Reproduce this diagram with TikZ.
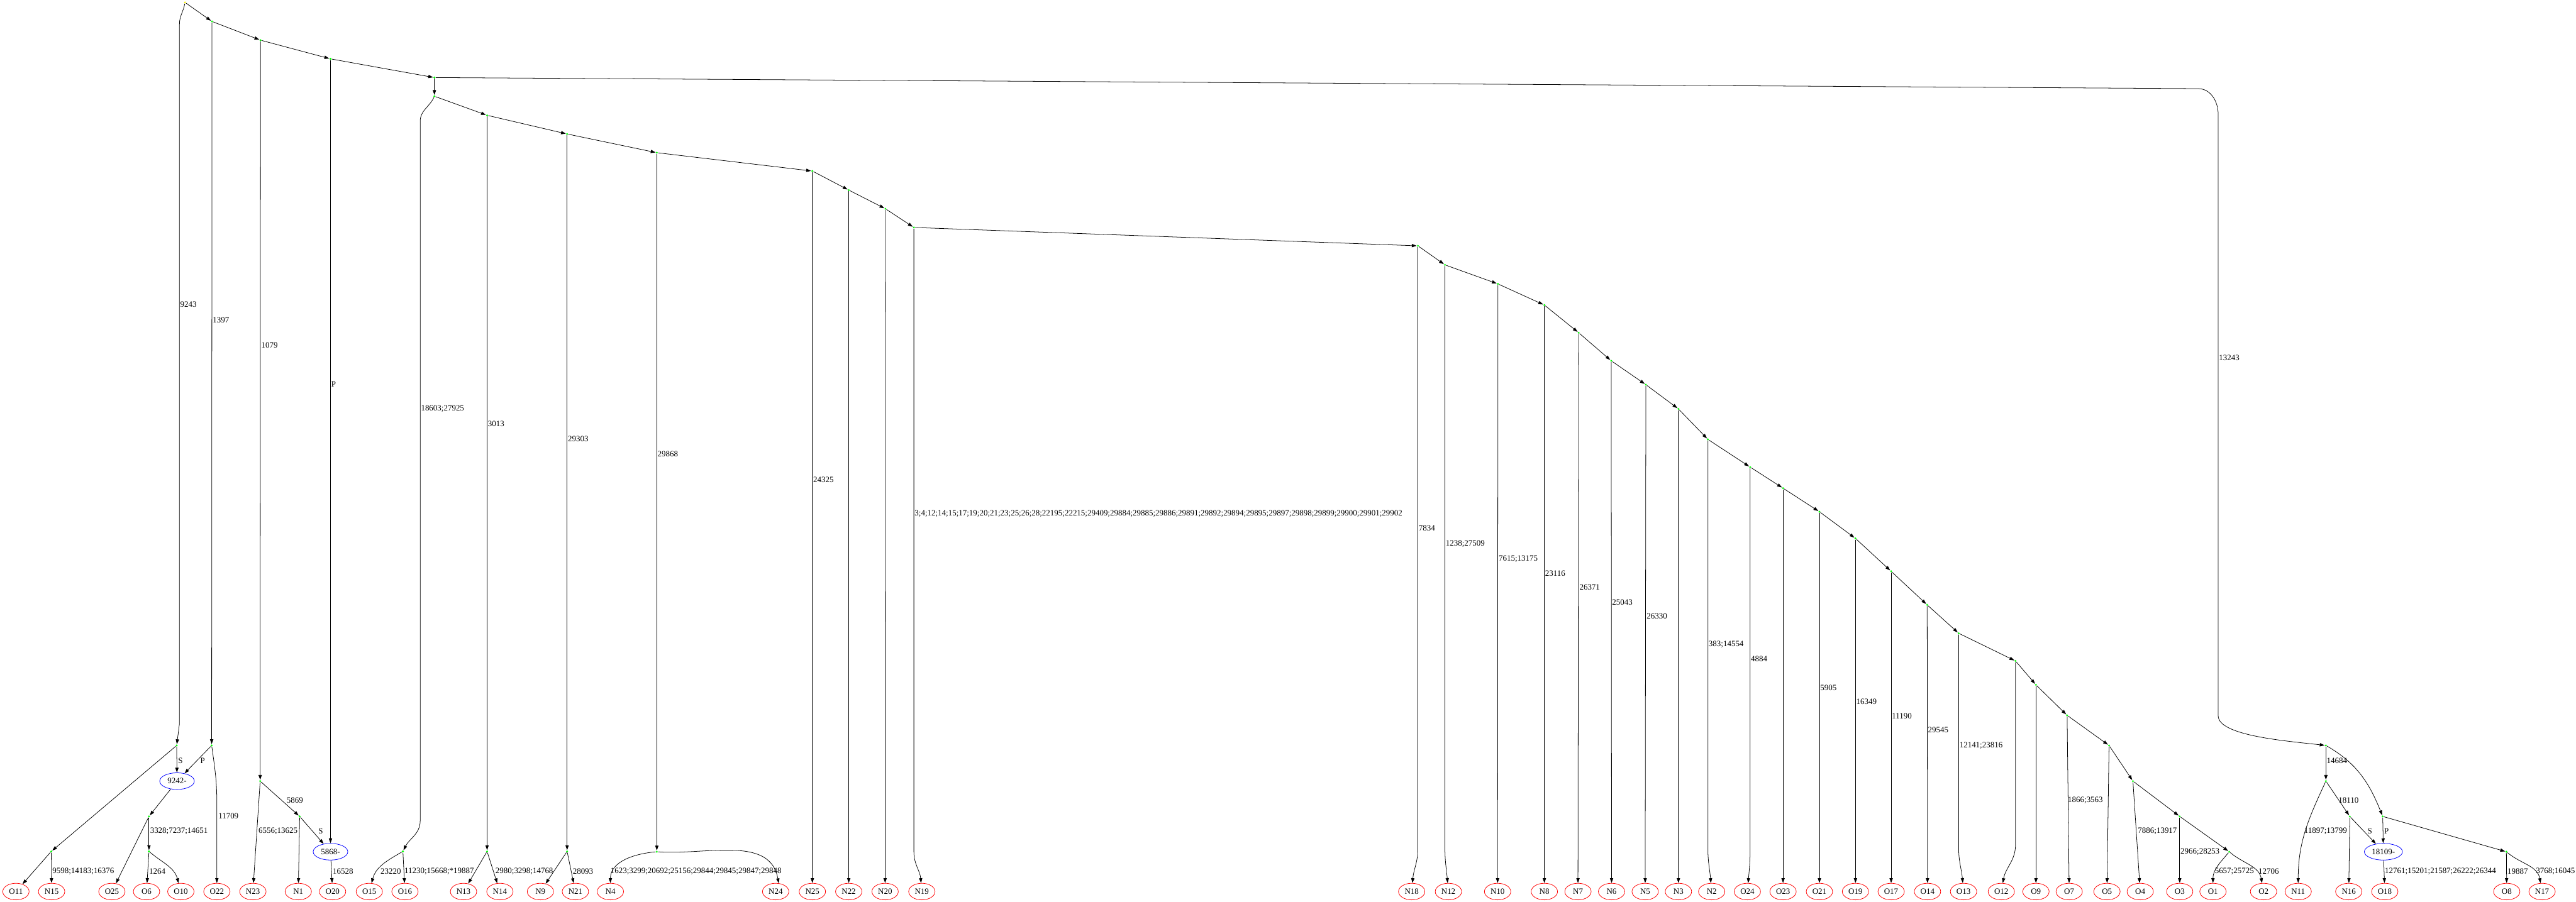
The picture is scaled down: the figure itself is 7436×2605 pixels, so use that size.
\documentclass[tikz,border=0pt]{standalone}
\usepackage{fontspec}
\setmainfont{Liberation Serif}
\usetikzlibrary{arrows.meta,shapes.geometric}

\tikzset{
  leaf/.style={ellipse, draw=red, minimum width=7.6mm, minimum height=4.8mm, inner sep=0pt},
  pivot/.style={ellipse, draw=blue, minimum width=10mm, minimum height=4.8mm, inner sep=0pt},
  branch/.style={circle, fill=green, inner sep=0pt, minimum size=0.6mm},
  lbl/.style={anchor=west, inner sep=0.5pt}
}

\begin{document}
\begin{tikzpicture}[x=0.1mm, y=-0.1mm, >={Triangle[length=1.4mm,width=0.95mm]}, line width=0.4pt, every node/.style={font=\fontsize{6.7}{8}\selectfont}]
    \useasboundingbox (0,0) rectangle (7436,2605);
    % main chain
    \node[branch, fill=yellow] (root) at (534,7) {};
    \node[branch] (t1) at (612,62) {};
    \node[branch] (t2) at (752,116) {};
    \node[branch] (t3) at (954,170) {};
    \node[branch] (t4) at (1254,224) {};
    \node[branch] (t5) at (1254,278) {};
    \node[branch] (m1) at (1406,333) {};
    \node[branch] (m2) at (1637,387) {};
    \node[branch] (m3) at (1896,441) {};
    \node[branch] (m4) at (2345,494) {};
    \node[branch] (m5) at (2450,549) {};
    \node[branch] (m6) at (2556,603) {};
    \node[branch] (m7) at (2638,657) {};
    \node[branch] (s1) at (4093,710) {};
    \node[branch] (s2) at (4171,765) {};
    \node[branch] (s3) at (4324,820) {};
    \node[branch] (s4) at (4458,881) {};
    \node[branch] (s5) at (4557,961) {};
    \node[branch] (s6) at (4651,1042) {};
    \node[branch] (s7) at (4751,1111) {};
    \node[branch] (s8) at (4845,1181) {};
    \node[branch] (s9) at (4930,1269) {};
    \node[branch] (s10) at (5052,1349) {};
    \node[branch] (s11) at (5147,1410) {};
    \node[branch] (s12) at (5252,1478) {};
    \node[branch] (s13) at (5356,1555) {};
    \node[branch] (s14) at (5459,1650) {};
    \node[branch] (s15) at (5563,1747) {};
    \node[branch] (s16) at (5654,1829) {};
    \node[branch] (s17) at (5818,1909) {};
    \node[branch] (s18) at (5877,1978) {};
    \node[branch] (s19) at (5967,2066) {};
    \node[branch] (s20) at (6088,2153) {};
    \node[branch] (s21) at (6157,2256) {};
    \node[branch] (s22) at (6292,2358) {};
    \node[branch] (s23) at (6435,2460) {};
    % left branches
    \node[branch] (a1) at (510,2153) {};
    \node[branch] (a2) at (611,2153) {};
    \node[branch] (a3) at (148,2459) {};
    \node[branch] (a4) at (430,2358) {};
    \node[branch] (a5) at (430,2459) {};
    \node[branch] (c1) at (751,2256) {};
    \node[branch] (c2) at (865,2358) {};
    \node[branch] (d1) at (1163,2459) {};
    \node[branch] (e1) at (1406,2459) {};
    \node[branch] (e2) at (1637,2459) {};
    \node[branch] (e3) at (1896,2460) {};
    % right branches
    \node[branch] (r1) at (6714,2153) {};
    \node[branch] (r2) at (6714,2256) {};
    \node[branch] (r3) at (6878,2358) {};
    \node[branch] (r4) at (6783,2358) {};
    \node[branch] (r5) at (7235,2460) {};
    % pivots
    \node[pivot] (b9242) at (511,2256) {9242-};
    \node[pivot] (b5868) at (954,2460) {5868-};
    \node[pivot, minimum width=11mm] (b18109) at (6880,2460) {18109-};
    % leaves
    \node[leaf] (O11) at (46,2575) {O11};
    \node[leaf] (N15) at (149,2575) {N15};
    \node[leaf] (O25) at (323,2575) {O25};
    \node[leaf] (O6) at (423,2575) {O6};
    \node[leaf] (O10) at (522,2575) {O10};
    \node[leaf] (O22) at (626,2575) {O22};
    \node[leaf] (N23) at (730,2575) {N23};
    \node[leaf] (N1) at (861,2575) {N1};
    \node[leaf] (O20) at (960,2575) {O20};
    \node[leaf] (O15) at (1066,2575) {O15};
    \node[leaf] (O16) at (1169,2575) {O16};
    \node[leaf] (N13) at (1338,2575) {N13};
    \node[leaf] (N14) at (1443,2575) {N14};
    \node[leaf] (N9) at (1560,2575) {N9};
    \node[leaf] (N21) at (1661,2575) {N21};
    \node[leaf] (N4) at (1762,2575) {N4};
    \node[leaf] (N24) at (2239,2575) {N24};
    \node[leaf] (N25) at (2345,2575) {N25};
    \node[leaf] (N22) at (2450,2575) {N22};
    \node[leaf] (N20) at (2555,2575) {N20};
    \node[leaf] (N19) at (2661,2575) {N19};
    \node[leaf] (N18) at (4075,2575) {N18};
    \node[leaf] (N12) at (4181,2575) {N12};
    \node[leaf] (N10) at (4323,2575) {N10};
    \node[leaf] (N8) at (4458,2575) {N8};
    \node[leaf] (N7) at (4555,2575) {N7};
    \node[leaf] (N6) at (4652,2575) {N6};
    \node[leaf] (N5) at (4749,2575) {N5};
    \node[leaf] (N3) at (4845,2575) {N3};
    \node[leaf] (N2) at (4941,2575) {N2};
    \node[leaf] (O24) at (5044,2575) {O24};
    \node[leaf] (O23) at (5147,2575) {O23};
    \node[leaf] (O21) at (5252,2575) {O21};
    \node[leaf] (O19) at (5356,2575) {O19};
    \node[leaf] (O17) at (5459,2575) {O17};
    \node[leaf] (O14) at (5564,2575) {O14};
    \node[leaf] (O13) at (5668,2575) {O13};
    \node[leaf] (O12) at (5777,2575) {O12};
    \node[leaf] (O9) at (5877,2575) {O9};
    \node[leaf] (O7) at (5973,2575) {O7};
    \node[leaf] (O5) at (6082,2575) {O5};
    \node[leaf] (O4) at (6178,2575) {O4};
    \node[leaf] (O3) at (6292,2575) {O3};
    \node[leaf] (O1) at (6388,2575) {O1};
    \node[leaf] (O2) at (6534,2575) {O2};
    \node[leaf] (N11) at (6634,2575) {N11};
    \node[leaf] (N16) at (6780,2575) {N16};
    \node[leaf] (O18) at (6884,2575) {O18};
    \node[leaf] (O8) at (7236,2575) {O8};
    \node[leaf] (N17) at (7338,2575) {N17};
    % chain edges
    \draw[->] (root) -- (t1);
    \draw[->] (t1) -- (t2);
    \draw[->] (t2) -- (t3);
    \draw[->] (t3) -- (t4);
    \draw[->] (t4) -- (t5);
    \draw[->] (t5) -- (m1);
    \draw[->] (m1) -- (m2);
    \draw[->] (m2) -- (m3);
    \draw[->] (m3) -- (m4);
    \draw[->] (m4) -- (m5);
    \draw[->] (m5) -- (m6);
    \draw[->] (m6) -- (m7);
    \draw[->] (m7) -- (s1);
    \draw[->] (s1) -- (s2);
    \draw[->] (s2) -- (s3);
    \draw[->] (s3) -- (s4);
    \draw[->] (s4) -- (s5);
    \draw[->] (s5) -- (s6);
    \draw[->] (s6) -- (s7);
    \draw[->] (s7) -- (s8);
    \draw[->] (s8) -- (s9);
    \draw[->] (s9) -- (s10);
    \draw[->] (s10) -- (s11);
    \draw[->] (s11) -- (s12);
    \draw[->] (s12) -- (s13);
    \draw[->] (s13) -- (s14);
    \draw[->] (s14) -- (s15);
    \draw[->] (s15) -- (s16);
    \draw[->] (s16) -- (s17);
    \draw[->] (s17) -- (s18);
    \draw[->] (s18) -- (s19);
    \draw[->] (s19) -- (s20);
    \draw[->] (s20) -- (s21);
    \draw[->] (s21) -- (s22);
    \draw[->] (s22) -- (s23);
    % long drops from the chain
    \draw[->] (root) to[out=-100,in=90] (518,70) -- (518,2090) -- (a1) node[lbl] at (518,880) {9243};
    \draw[->] (t1) -- (a2) node[lbl] at (612,924) {1397};
    \draw[->] (t2) -- (c1) node[lbl] at (752,997) {1079};
    \draw[->] (t3) -- (b5868) node[lbl] at (954,1109) {P};
    \draw[->] (t4) -- (6345,256) to[out=0,in=90] (6403,330) -- (6403,2067) .. controls (6403,2125) and (6600,2140) .. (r1) node[lbl] at (6403,1034) {13243};
    \draw[->] (t5) to[out=-115,in=90] (1213,350) -- (1213,2370) to[out=-90,in=63] (d1) node[lbl] at (1213,1180) {18603;27925};
    \draw[->] (m1) -- (e1) node[lbl] at (1406,1224) {3013};
    \draw[->] (m2) -- (e2) node[lbl] at (1637,1268) {29303};
    \draw[->] (m3) -- (e3) node[lbl] at (1896,1312) {29868};
    \draw[->] (m4) -- (N25) node[lbl] at (2345,1385) {24325};
    \draw[->] (m5) -- (N22);
    \draw[->] (m6) -- (N20);
    \draw[->] (m7) -- (2638,2460) to[out=-90,in=95] (N19) node[lbl] at (2638,1483) {3;4;12;14;15;17;19;20;21;23;25;26;28;22195;22215;29409;29884;29885;29886;29891;29892;29894;29895;29897;29898;29899;29900;29901;29902};
    \draw[->] (s1) -- (4093,2450) to[out=-90,in=85] (N18) node[lbl] at (4093,1526) {7834};
    \draw[->] (s2) -- (4171,2450) to[out=-90,in=95] (N12) node[lbl] at (4171,1571) {1238;27509};
    \draw[->] (s3) -- (N10) node[lbl] at (4324,1615) {7615;13175};
    \draw[->] (s4) -- (N8) node[lbl] at (4458,1656) {23116};
    \draw[->] (s5) -- (N7) node[lbl] at (4557,1697) {26371};
    \draw[->] (s6) -- (N6) node[lbl] at (4651,1739) {25043};
    \draw[->] (s7) -- (N5) node[lbl] at (4751,1780) {26330};
    \draw[->] (s8) -- (N3);
    \draw[->] (s9) -- (4930,2450) to[out=-90,in=95] (N2) node[lbl] at (4930,1862) {383;14554};
    \draw[->] (s10) -- (5052,2450) to[out=-90,in=85] (O24) node[lbl] at (5052,1903) {4884};
    \draw[->] (s11) -- (O23);
    \draw[->] (s12) -- (O21) node[lbl] at (5252,1986) {5905};
    \draw[->] (s13) -- (O19) node[lbl] at (5356,2027) {16349};
    \draw[->] (s14) -- (O17) node[lbl] at (5459,2068) {11190};
    \draw[->] (s15) -- (O14) node[lbl] at (5563,2109) {29545};
    \draw[->] (s16) -- (5654,2450) to[out=-90,in=95] (O13) node[lbl] at (5654,2153) {12141;23816};
    \draw[->] (s17) -- (5818,2440) to[out=-90,in=80] (O12);
    \draw[->] (s18) -- (O9);
    \draw[->] (s19) -- (O7) node[lbl] at (5967,2312) {1866;3563};
    \draw[->] (s20) -- (O5);
    \draw[->] (s21) -- (O4) node[lbl] at (6169,2400) {7886;13917};
    \draw[->] (s22) -- (O3) node[lbl] at (6292,2460) {2966;28253};
    \draw[->] (s23) to[out=-130,in=90] (O1) node[lbl] at (6391,2517) {5657;25725};
    \draw[->] (s23) to[out=-40,in=100] (O2) node[lbl] at (6517,2517) {12706};
    % left subtrees
    \draw[->] (a1) -- (b9242) node[lbl] at (512,2197) {S};
    \draw[->] (a2) -- (b9242) node[lbl] at (576,2197) {P};
    \draw[->] (a1) -- (a3);
    \draw[->] (a2) to[out=-82,in=90] (626,2320) -- (O22) node[lbl] at (628,2357) {11709};
    \draw[->] (b9242) -- (a4);
    \draw[->] (a4) -- (O25);
    \draw[->] (a4) -- (a5) node[lbl] at (431,2400) {3328;7237;14651};
    \draw[->] (a5) -- (O6) node[lbl] at (428,2517) {1264};
    \draw[->] (a5) to[out=-40,in=105] (O10);
    \draw[->] (a3) -- (O11);
    \draw[->] (a3) -- (N15) node[lbl] at (149,2517) {9598;14183;16376};
    \draw[->] (c1) -- (N23) node[lbl] at (744,2400) {6556;13625};
    \draw[->] (c1) -- (c2) node[lbl] at (825,2312) {5869};
    \draw[->] (c2) -- (N1);
    \draw[->] (c2) -- (b5868) node[lbl] at (917,2400) {S};
    \draw[->] (b5868) -- (O20) node[lbl] at (958,2517) {16528};
    \draw[->] (d1) to[out=-150,in=75] (O15) node[lbl] at (1096,2517) {23220};
    \draw[->] (d1) -- (O16) node[lbl] at (1165,2517) {11230;15668;*19887};
    \draw[->] (e1) -- (N13);
    \draw[->] (e1) -- (N14) node[lbl] at (1428,2517) {2980;3298;14768};
    \draw[->] (e2) -- (N9);
    \draw[->] (e2) -- (N21) node[lbl] at (1651,2517) {28093};
    \draw[->] (e3) to[out=-175,in=90] (N4);
    \draw[->] (e3) to[out=-4,in=100] (N24.70) node[lbl] at (1760,2517) {1623;3299;20692;25156;29844;29845;29847;29848};
    % right subtree
    \draw[->] (r1) -- (r2) node[lbl] at (6714,2197) {14684};
    \draw[->] (r1) to[out=-30,in=112] (r3);
    \draw[->] (r2) to[out=-115,in=90] (N11) node[lbl] at (6649,2400) {11897;13799};
    \draw[->] (r2) -- (r4) node[lbl] at (6748,2312) {18110};
    \draw[->] (r4) -- (N16);
    \draw[->] (r4) -- (b18109) node[lbl] at (6832,2400) {S};
    \draw[->] (r3) -- (b18109) node[lbl] at (6880,2400) {P};
    \draw[->] (r3) -- (r5);
    \draw[->] (b18109) -- (O18) node[lbl] at (6882,2517) {12761;15201;21587;26222;26344};
    \draw[->] (r5) -- (O8) node[lbl] at (7236,2517) {19887};
    \draw[->] (r5) to[out=-40,in=100] (N17) node[lbl] at (7318,2517) {3768;16045};
\end{tikzpicture}
\end{document}
